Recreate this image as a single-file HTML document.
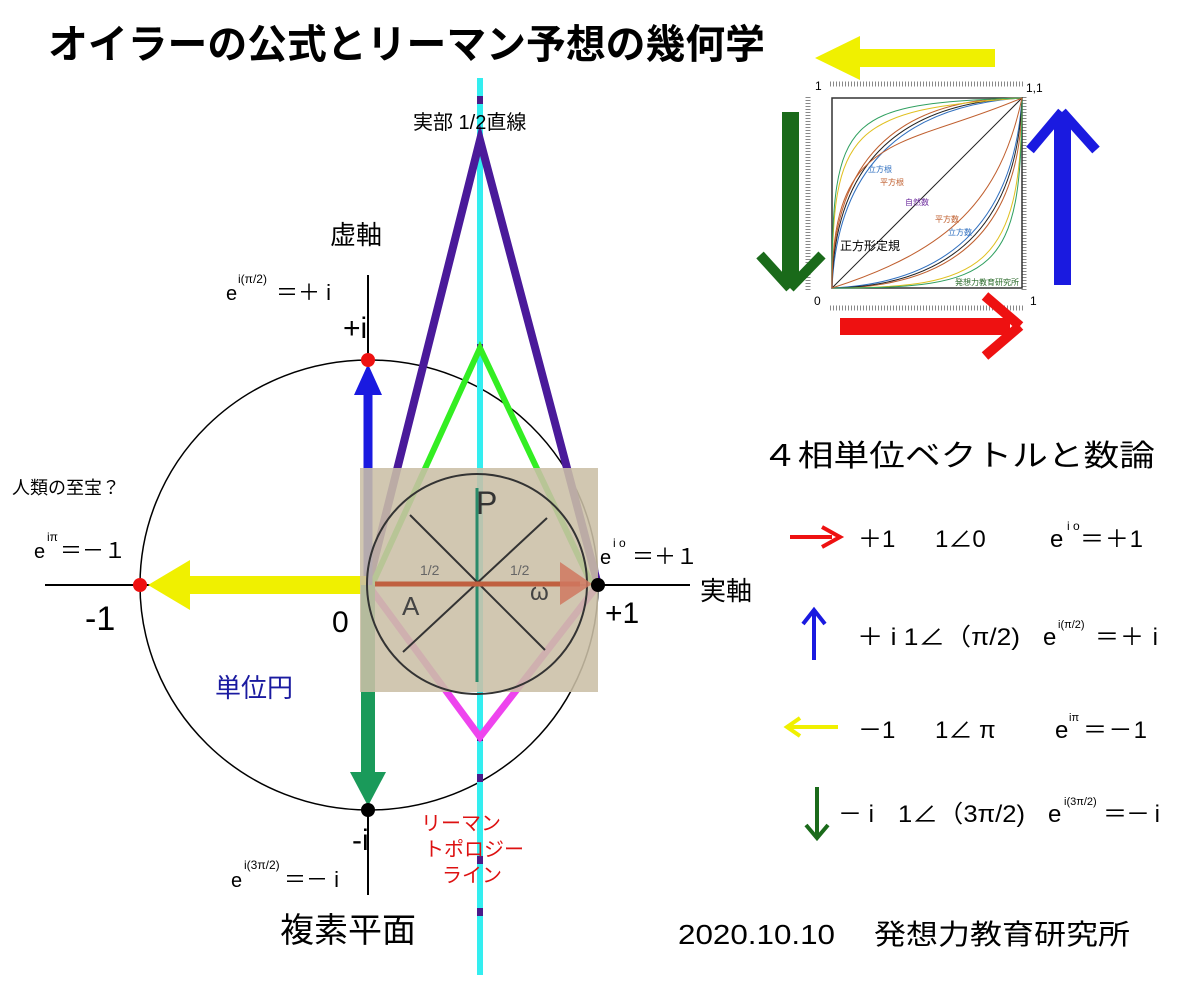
<!DOCTYPE html>
<html><head><meta charset="utf-8"><style>
html,body{margin:0;padding:0;background:#fff;width:1200px;height:1000px;overflow:hidden}
svg{display:block}
text{font-family:"Liberation Sans","Noto Sans CJK JP",sans-serif;fill:#000}
</style></head><body>
<svg width="1200" height="1000" viewBox="0 0 1200 1000" xmlns="http://www.w3.org/2000/svg">
<text x="48" y="58" font-size="40" font-weight="bold" textLength="717" lengthAdjust="spacingAndGlyphs">オイラーの公式とリーマン予想の幾何学</text>

<line x1="45" y1="585" x2="690" y2="585" stroke="#000" stroke-width="2"/>
<line x1="368" y1="275" x2="368" y2="895" stroke="#000" stroke-width="2"/>
<ellipse cx="369" cy="585" rx="229" ry="225" fill="none" stroke="#000" stroke-width="1.5"/>

<line x1="480" y1="78" x2="480" y2="975" stroke="#33eef0" stroke-width="6"/>
<g fill="#4a1a8a">
<rect x="477" y="96" width="6" height="8"/><rect x="477" y="344" width="6" height="8"/>
<rect x="477" y="733" width="6" height="8"/><rect x="477" y="774" width="6" height="8"/>
<rect x="477" y="856" width="6" height="8"/><rect x="477" y="908" width="6" height="8"/>
</g>

<polyline points="368,585 480,140 598,585" fill="none" stroke="#4a1a9a" stroke-width="8"/>
<polyline points="372,585 480,348 592,585" fill="none" stroke="#33ee22" stroke-width="6"/>
<polyline points="368,585 480,737 598,585" fill="none" stroke="#ee44ee" stroke-width="7"/>

<line x1="368" y1="585" x2="368" y2="395" stroke="#1a1ae0" stroke-width="9"/>
<polygon points="354,395 382,395 368,364" fill="#1a1ae0"/>
<line x1="368" y1="585" x2="185" y2="585" stroke="#f0f000" stroke-width="18"/>
<polygon points="190,560 190,610 148,585" fill="#f0f000"/>
<line x1="368" y1="585" x2="368" y2="775" stroke="#1a9a5a" stroke-width="14"/>
<polygon points="350,772 386,772 368,806" fill="#1a9a5a"/>

<rect x="360" y="468" width="238" height="224" fill="#cbbfa6" opacity="0.88"/>
<circle cx="477" cy="584" r="110" fill="none" stroke="#333" stroke-width="2"/>
<line x1="477" y1="488" x2="477" y2="682" stroke="#2a8a6a" stroke-width="3"/>
<line x1="410" y1="515" x2="545" y2="650" stroke="#333" stroke-width="2"/>
<line x1="547" y1="518" x2="403" y2="652" stroke="#333" stroke-width="2"/>
<line x1="375" y1="584" x2="580" y2="584" stroke="#c06040" stroke-width="5"/>
<polygon points="560,562 592,584 560,605" fill="#d07860" opacity="0.85"/>
<text x="476" y="514" font-size="32" style="fill:#333">P</text>
<text x="420" y="575" font-size="14" style="fill:#666">1/2</text>
<text x="510" y="575" font-size="14" style="fill:#666">1/2</text>
<text x="402" y="615" font-size="26" style="fill:#444">A</text>
<text x="530" y="600" font-size="24" style="fill:#444">ω</text>

<circle cx="368" cy="360" r="7" fill="#ee1111"/>
<circle cx="140" cy="585" r="7" fill="#ee1111"/>
<circle cx="598" cy="585" r="7" fill="#000"/>
<circle cx="368" cy="810" r="7" fill="#000"/>

<text x="413" y="129" font-size="20">実部 1/2直線</text>
<text x="330" y="244" font-size="26">虚軸</text>
<text x="226" y="300" font-size="20">e</text><text x="238" y="283" font-size="12">i(π/2)</text><text x="276" y="300" font-size="22">＝＋ i</text>
<text x="343" y="338" font-size="30">+i</text>
<text x="12" y="494" font-size="18">人類の至宝？</text>
<text x="34" y="558" font-size="20">e</text><text x="47" y="541" font-size="12">iπ</text><text x="60" y="558" font-size="22">＝－１</text>
<text x="85" y="630" font-size="34">-1</text>
<text x="332" y="632" font-size="30">0</text>
<text x="600" y="564" font-size="20">e</text><text x="613" y="547" font-size="12">i o</text><text x="632" y="564" font-size="22">＝＋１</text>
<text x="605" y="623" font-size="30">+1</text>
<text x="700" y="600" font-size="26">実軸</text>
<text x="215" y="697" font-size="26" style="fill:#1a1aa0">単位円</text>
<text x="352" y="850" font-size="30">-i</text>
<text x="231" y="887" font-size="20">e</text><text x="244" y="869" font-size="12">i(3π/2)</text><text x="284" y="887" font-size="22">＝－ i</text>
<text x="421" y="830" font-size="20" style="fill:#dd1111">リーマン</text>
<text x="424" y="856" font-size="20" style="fill:#dd1111">トポロジー</text>
<text x="442" y="882" font-size="20" style="fill:#dd1111">ライン</text>
<text x="280" y="942" font-size="34">複素平面</text>
<text x="762" y="466" font-size="30" textLength="393" lengthAdjust="spacingAndGlyphs">４相単位ベクトルと数論</text>
<text x="678" y="944" font-size="28" textLength="157" lengthAdjust="spacingAndGlyphs">2020.10.10</text>
<text x="874" y="944" font-size="28" textLength="256" lengthAdjust="spacingAndGlyphs">発想力教育研究所</text>

<!-- right table -->
<line x1="790" y1="537" x2="832" y2="537" stroke="#ee1111" stroke-width="4"/>
<polyline points="822,527 840,537 822,547" fill="none" stroke="#ee1111" stroke-width="4"/>
<text x="858" y="547" font-size="24">＋1</text><text x="935" y="547" font-size="24">1∠0</text>
<text x="1050" y="547" font-size="24">e</text><text x="1067" y="530" font-size="12">i o</text><text x="1080" y="547" font-size="24" textLength="63">＝＋1</text>

<line x1="814" y1="660" x2="814" y2="612" stroke="#1a1ae0" stroke-width="4"/>
<polyline points="803,624 814,610 825,624" fill="none" stroke="#1a1ae0" stroke-width="4"/>
<text x="857" y="645" font-size="24" textLength="163" lengthAdjust="spacingAndGlyphs">＋ i 1∠（π/2)</text>
<text x="1043" y="645" font-size="24">e</text><text x="1058" y="628" font-size="11">i(π/2)</text><text x="1095" y="645" font-size="24" textLength="63">＝＋ i</text>

<line x1="790" y1="727" x2="838" y2="727" stroke="#f0f000" stroke-width="4"/>
<polyline points="800,718 787,727 800,736" fill="none" stroke="#f0f000" stroke-width="4"/>
<text x="858" y="738" font-size="24">－1</text><text x="935" y="738" font-size="24">1∠ π</text>
<text x="1055" y="738" font-size="24">e</text><text x="1069" y="721" font-size="11">iπ</text><text x="1083" y="738" font-size="24" textLength="64">＝－1</text>

<line x1="817" y1="787" x2="817" y2="835" stroke="#1a6a1a" stroke-width="4"/>
<polyline points="806,825 817,838 828,825" fill="none" stroke="#1a6a1a" stroke-width="4"/>
<text x="838" y="822" font-size="24">－ i</text><text x="898" y="822" font-size="24" textLength="127" lengthAdjust="spacingAndGlyphs">1∠（3π/2)</text>
<text x="1048" y="822" font-size="24">e</text><text x="1064" y="805" font-size="11">i(3π/2)</text><text x="1103" y="822" font-size="24" textLength="57">＝－ i</text>

<!-- chart -->
<rect x="800" y="78" width="232" height="235" fill="#fff"/>
<g stroke="#888" stroke-width="1">
<line x1="830" y1="84" x2="1023" y2="84" stroke-width="5" stroke-dasharray="1,2"/>
<line x1="830" y1="308" x2="1023" y2="308" stroke-width="5" stroke-dasharray="1,2"/>
<line x1="808" y1="97" x2="808" y2="290" stroke-width="5" stroke-dasharray="1,2"/>
<line x1="1024" y1="97" x2="1024" y2="290" stroke-width="5" stroke-dasharray="1,2"/>
</g>
<rect x="832" y="98" width="190" height="190" fill="none" stroke="#333" stroke-width="1.5"/>
<g fill="none" stroke-width="1">
<path d="M832,288 L1022,98" stroke="#222"/>
<path d="M832,288 Q832,98 1022,98" stroke="#c06030"/>
<path d="M832,288 Q1022,288 1022,98" stroke="#c06030"/>
<path d="M832,288 Q840,110 1022,98" stroke="#3070c0"/>
<path d="M832,288 Q1010,280 1022,98" stroke="#3070c0"/>
<path d="M832,288 Q835,105 1022,98" stroke="#222"/>
<path d="M832,288 Q1015,285 1022,98" stroke="#222"/>
<path d="M832,288 C832,130 850,110 1022,98" stroke="#e0c020"/>
<path d="M832,288 C980,288 1022,270 1022,98" stroke="#e0c020"/>
<path d="M832,288 C832,115 845,104 1022,98" stroke="#30a060"/>
<path d="M832,288 C995,288 1022,275 1022,98" stroke="#30a060"/>
<path d="M832,288 C832,130 900,150 1022,98" stroke="#c06030"/>
<path d="M832,288 C950,250 1000,200 1022,98" stroke="#c06030"/>
</g>
<g font-size="8">
<text x="868" y="172" style="fill:#3070c0">立方根</text>
<text x="880" y="185" style="fill:#c06030">平方根</text>
<text x="905" y="205" style="fill:#7030a0">自然数</text>
<text x="935" y="222" style="fill:#c06030">平方数</text>
<text x="948" y="235" style="fill:#3070c0">立方数</text>
<text x="840" y="250" font-size="12">正方形定規</text>
<text x="955" y="285" style="fill:#2a6a2a">発想力教育研究所</text>
</g>
<text x="815" y="90" font-size="12">1</text><text x="1026" y="92" font-size="12">1,1</text>
<text x="814" y="305" font-size="12">0</text><text x="1030" y="305" font-size="12">1</text>

<rect x="855" y="49" width="140" height="18" fill="#f0f000"/>
<polygon points="860,36 860,80 815,58" fill="#f0f000"/>
<line x1="1062" y1="112" x2="1030" y2="150" stroke="#1a1ae0" stroke-width="10"/>
<line x1="1062" y1="112" x2="1096" y2="150" stroke="#1a1ae0" stroke-width="10"/>
<rect x="1054" y="115" width="17" height="170" fill="#1a1ae0"/>
<rect x="782" y="112" width="17" height="170" fill="#1a6a1a"/>
<line x1="790" y1="288" x2="760" y2="255" stroke="#1a6a1a" stroke-width="10"/>
<line x1="790" y1="288" x2="822" y2="255" stroke="#1a6a1a" stroke-width="10"/>
<rect x="840" y="318" width="170" height="17" fill="#ee1111"/>
<line x1="1020" y1="326" x2="985" y2="296" stroke="#ee1111" stroke-width="10"/>
<line x1="1020" y1="326" x2="985" y2="356" stroke="#ee1111" stroke-width="10"/>
</svg>
</body></html>
